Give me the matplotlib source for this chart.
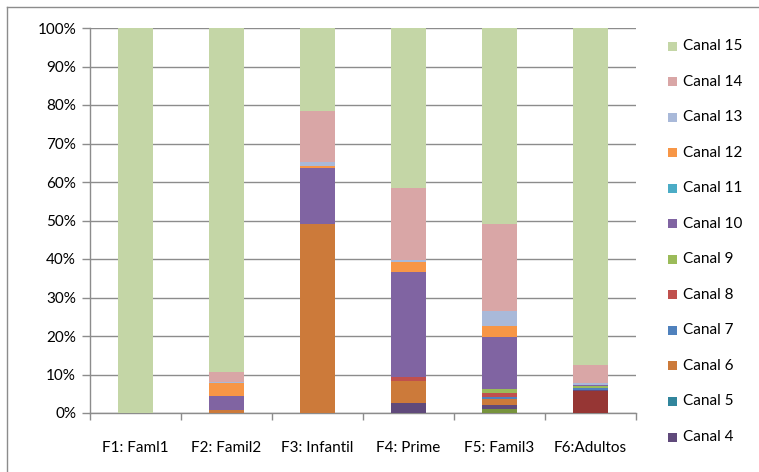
import matplotlib
matplotlib.use("Agg")
import matplotlib.pyplot as plt
from matplotlib.patches import Rectangle
from matplotlib.lines import Line2D
import numpy as np

plt.rcParams['font.family'] = ['Lato', 'DejaVu Sans']

categories = ["F1: Faml1", "F2: Famil2", "F3: Infantil", "F4: Prime", "F5: Famil3", "F6:Adultos"]
series_names = ["Canal %d" % i for i in range(1, 16)]

# values in % per category (F1..F6)
canal_1 = [0, 0, 0, 0, 0, 0]
canal_2 = [0, 0, 0, 0, 0, 5.7]
canal_3 = [0, 0, 0, 0, 1.0, 0]
canal_4 = [0, 0, 0, 2.5, 1.2, 0.4]
canal_5 = [0, 0, 0, 0, 0, 0]
canal_6 = [0, 0.7, 49.0, 5.8, 1.4, 0]
canal_7 = [0, 0, 0, 0, 0.6, 0.5]
canal_8 = [0, 0, 0, 1.0, 1.0, 0]
canal_9 = [0, 0, 0, 0, 1.1, 0.3]
canal_10 = [0, 3.6, 14.6, 27.2, 13.4, 0.4]
canal_11 = [0, 0, 0, 0, 0, 0]
canal_12 = [0, 3.4, 0.5, 2.7, 2.9, 0]
canal_13 = [0, 0.3, 1.2, 0.5, 4.0, 0.6]
canal_14 = [0, 2.7, 13.2, 18.7, 22.6, 4.6]
canal_15 = [100, 89.3, 21.5, 41.6, 50.8, 88.0]

values = [canal_1, canal_2, canal_3, canal_4, canal_5, canal_6, canal_7, canal_8,
          canal_9, canal_10, canal_11, canal_12, canal_13, canal_14, canal_15]

colors = ["#385D8A", "#963634", "#77933C", "#604A7B", "#31859C", "#CC7A3A",
          "#4F81BD", "#C0504D", "#9BBB59", "#8064A2", "#4BACC6", "#F79646",
          "#A9B9D9", "#D9A6A6", "#C4D6A6"]

legend_from = 3  # legend shows Canal 4 .. Canal 15

W, H = 759, 472
fig = plt.figure(figsize=(W / 100, H / 100), dpi=100)
ax = fig.add_axes([90 / W, 1 - 413 / H, (636 - 90) / W, (413 - 28) / H])

x = np.arange(len(categories))
bottom = np.zeros(len(categories))
for name, vals, col in zip(series_names, values, colors):
    v = np.array(vals, dtype=float)
    ax.bar(x, v, bottom=bottom, width=0.39, color=col, linewidth=0, zorder=3)
    bottom += v

ax.set_xlim(-0.5, len(categories) - 0.5)
ax.set_ylim(0, 100)
ax.set_yticks(np.arange(0, 101, 10))
ax.set_yticklabels(["%d%%" % t for t in range(0, 101, 10)])
ax.yaxis.grid(True, color="#8c8c8c", linewidth=1.0, zorder=0)
ax.set_axisbelow(True)

ax.set_xticks(x)
ax.set_xticklabels(categories)
ax.set_xticks(np.arange(-0.5, len(categories)), minor=True)
ax.tick_params(axis='x', which='major', length=0, pad=20, labelsize=11, colors="#000000")
ax.tick_params(axis='x', which='minor', length=5, width=1, color="#8c8c8c", direction='out')
ax.tick_params(axis='y', length=6, width=1, color="#8c8c8c", pad=4, labelsize=11)

for s in ["top", "right"]:
    ax.spines[s].set_visible(False)
for s in ["left", "bottom"]:
    ax.spines[s].set_color("#8c8c8c")
    ax.spines[s].set_linewidth(1.0)

# manual legend (Canal 15 at top down to Canal 4)
leg_items = list(zip(series_names, colors))[legend_from:][::-1]
y0, dy = 46, (437 - 46) / (len(leg_items) - 1)
for i, (name, col) in enumerate(leg_items):
    yc = y0 + i * dy
    fig.add_artist(Rectangle((668 / W, 1 - (yc + 4.5) / H), 9 / W, 9 / H,
                             transform=fig.transFigure, facecolor=col, edgecolor="none"))
    fig.text(683 / W, 1 - yc / H, name, fontsize=11, va='center', ha='left')

# chart border (left and top visible)
fig.add_artist(Line2D([7 / W, 7 / W], [0, 1 - 7 / H], transform=fig.transFigure,
                      color="#8c8c8c", linewidth=1.0))
fig.add_artist(Line2D([7 / W, 1], [1 - 7 / H, 1 - 7 / H], transform=fig.transFigure,
                      color="#8c8c8c", linewidth=1.0))

fig.savefig("out.png", dpi=100)
